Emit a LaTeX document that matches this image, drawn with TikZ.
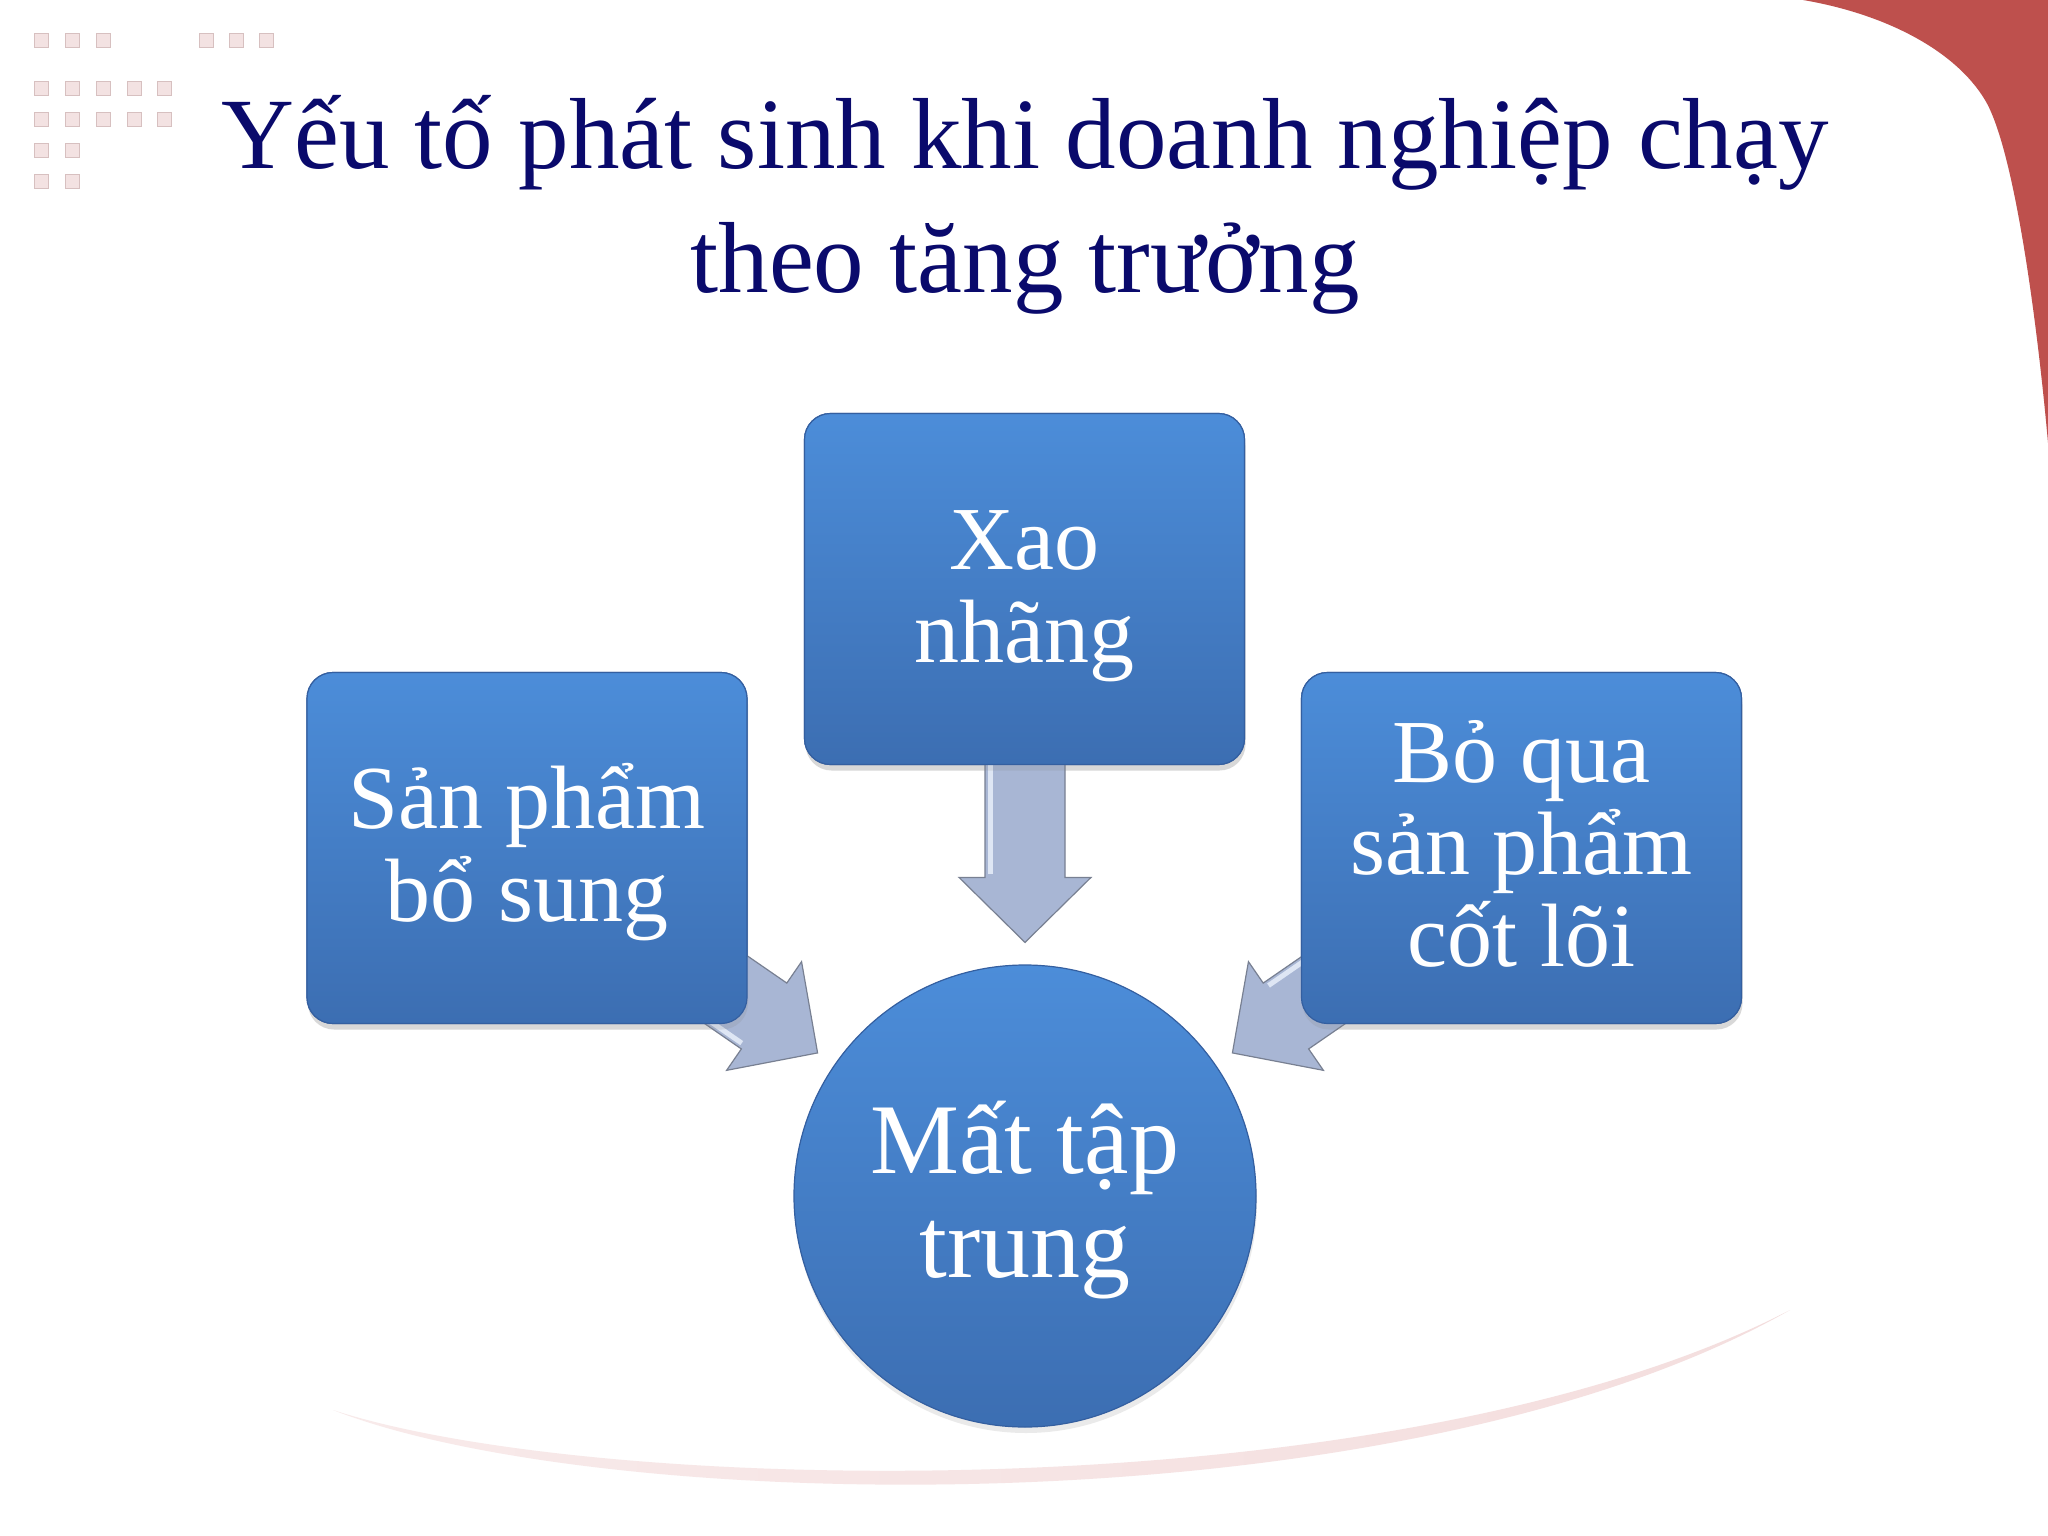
\documentclass[tikz,border=0pt]{standalone}
\usepackage{fontspec}
\setmainfont{Liberation Serif}
\usetikzlibrary{calc,shadows}
\definecolor{titleblue}{RGB}{10,10,108}
\definecolor{boxtop}{RGB}{76,141,217}
\definecolor{boxbot}{RGB}{60,110,178}
\definecolor{boxedge}{RGB}{52,95,160}
\definecolor{arrfill}{RGB}{168,182,212}
\definecolor{arredge}{RGB}{120,128,146}
\definecolor{arrhi}{RGB}{222,230,244}
\definecolor{cornerred}{RGB}{190,80,77}
\definecolor{sqfill}{RGB}{243,226,226}
\definecolor{sqedge}{RGB}{215,192,192}
\definecolor{swooshA}{RGB}{248,234,234}
\definecolor{swooshB}{RGB}{232,188,188}
\definecolor{swooshC}{RGB}{244,222,222}
\tikzset{
  bluebox/.style={rounded corners=26pt, top color=boxtop, bottom color=boxbot,
    draw=boxedge, line width=1.2pt, minimum width=440pt, minimum height=351pt,
    inner sep=0pt, drop shadow={shadow xshift=1pt, shadow yshift=-6pt, opacity=0.16}},
  bluecirc/.style={circle, top color=boxtop, bottom color=boxbot,
    draw=boxedge, line width=1.2pt, minimum size=462pt, inner sep=0pt,
    drop shadow={shadow xshift=1pt, shadow yshift=-6pt, opacity=0.16}},
  boxtext/.style={text=white, font=\fontsize{90pt}{93pt}\selectfont, anchor=base, inner sep=0pt},
  circtext/.style={text=white, font=\fontsize{100pt}{104pt}\selectfont, anchor=base, inner sep=0pt},
  titletext/.style={text=titleblue, font=\fontsize{101pt}{124pt}\selectfont, anchor=base, inner sep=0pt},
  deco/.style={fill=sqfill, draw=sqedge, line width=0.8pt},
  blockarrow/.style={fill=arrfill, draw=arredge, line width=1.2pt, line join=miter},
}
\newcommand\blkarrow[3]{%
  \begin{scope}[shift={(#1)}, rotate=#2]
    \path[blockarrow] (-#3,-40) -- (-65,-40) -- (-65,-66) -- (0,0) -- (-65,66) -- (-65,40) -- (-#3,40) -- cycle;
    \draw[arrhi, line width=5pt] (-#3,35) -- (-68,35);
  \end{scope}}
\begin{document}
\begin{tikzpicture}[x=1pt,y=-1pt]
\useasboundingbox (0,0) rectangle (2048,1536);
\fill[white] (0,0) rectangle (2048,1536);

% red corner
\fill[cornerred] (1803,0) .. controls (1885,14) and (1955,50) .. (1985,100)
  .. controls (2015,150) and (2038,330) .. (2048,443) -- (2048,0) -- cycle;

% decorative squares
\foreach \x in {34,65,96,199,229,259} \path[deco] (\x,33) rectangle ++(14,14);
\foreach \y in {81,112} \foreach \x in {34,65,96,127,157} \path[deco] (\x,\y) rectangle ++(14,14);
\foreach \y in {143,174} \foreach \x in {34,65} \path[deco] (\x,\y) rectangle ++(14,14);

% bottom swoosh
\shade[left color=swooshA, middle color=swooshB, right color=swooshC]
  (333,1410) .. controls (600,1515) and (1400,1532) .. (1790,1310)
  .. controls (1400,1512) and (600,1497) .. (333,1410) -- cycle;

% title
\node[titletext] (title1) at (1025,168) {Yếu tố phát sinh khi doanh nghiệp chạy};
\node[titletext] (title2) at (1025,292) {theo tăng trưởng};

% shapes
\node[bluebox] (xao) at (1024.5,589) {};
\node[bluebox] (lbox) at (527,848) {};
\node[bluebox] (rbox) at (1521.5,848) {};
\node[bluecirc] (circ) at (1025,1196) {};

% block arrows pointing at the circle, starting behind the boxes
\coordinate (tipD) at ($(circ.north)+(0,-22)$);
\coordinate (tipL) at ($(circ.center)+(145.4:252pt)$);
\coordinate (tipR) at ($(circ.center)+(34.6:252pt)$);
\blkarrow{tipD}{-90}{200}
\blkarrow{tipL}{-34.6}{200}
\blkarrow{tipR}{-145.4}{200}

% boxes again, on top of the arrow shafts
\node[bluebox] (xaoTop) at (xao) {};
\node[bluebox] (lboxTop) at (lbox) {};
\node[bluebox] (rboxTop) at (rbox) {};

% texts
\node[boxtext] (xao1) at ($(xao.north)+(0,157)$) {Xao};
\node[boxtext] (xao2) at ($(xao.north)+(0,250)$) {nhãng};
\node[boxtext] (l1) at ($(lbox.north)+(0,157)$) {Sản phẩm};
\node[boxtext] (l2) at ($(lbox.north)+(0,250)$) {bổ sung};
\node[boxtext] (r1) at ($(rbox.north)+(0,111)$) {Bỏ qua};
\node[boxtext] (r2) at ($(rbox.north)+(0,203)$) {sản phẩm};
\node[boxtext] (r3) at ($(rbox.north)+(0,295)$) {cốt lõi};
\node[circtext] (c1) at ($(circ.center)+(0,-23)$) {Mất tập};
\node[circtext] (c2) at ($(circ.center)+(0,81)$) {trung};
\end{tikzpicture}
\end{document}
